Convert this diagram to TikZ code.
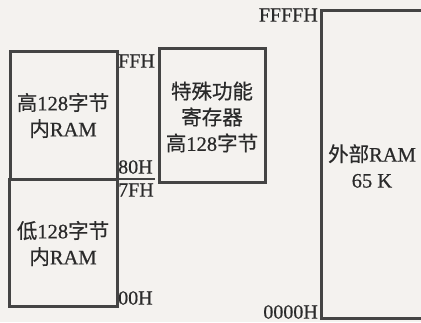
\documentclass[tikz,border=0pt]{standalone}
\usepackage{fontspec}
\setmainfont{Liberation Serif}[FakeBold=0.5]
\newfontfamily\cjk{Noto Sans CJK SC}[FakeBold=0.5]
\definecolor{bg}{HTML}{F4F2EF}
\definecolor{ln}{HTML}{444444}
\definecolor{tx}{HTML}{2A2A2A}
\begin{document}
\begin{tikzpicture}[x=1pt,y=-1pt,
  blk/.style={draw=ln,line width=3pt},
  lbl/.style={text=tx,font=\fontsize{20.5}{26}\selectfont,inner sep=0pt,align=center},
  addr/.style={text=tx,font=\fontsize{20}{22}\selectfont,inner sep=0pt}]
\fill[bg] (0,0) rectangle (421,322);
\useasboundingbox (0,0) rectangle (421,322);
% left blocks
\draw[blk] (10,51) rectangle (117,179);
\draw[blk] (9,179) rectangle (117,306);
\coordinate (sepA) at (117,179);
\coordinate (sepB) at (155,179);
\draw[ln,line width=1.8pt] (sepA) -- (sepB);
% middle block
\draw[blk] (159,48) rectangle (265,182);
% right block
\draw[blk] (321,10) rectangle (440,318);
% texts
\node[lbl] (hi) at (63,115.5) {{\cjk 高}128{\cjk 字节}\\{\cjk 内}RAM};
\node[lbl] (lo) at (63,243.5) {{\cjk 低}128{\cjk 字节}\\{\cjk 内}RAM};
\node[lbl] (sfr) at (212,117) {{\cjk 特殊功能}\\{\cjk 寄存器}\\{\cjk 高}128{\cjk 字节}};
\node[lbl] (ext) at (372,166) {{\cjk 外部}RAM\\65 K};
% addresses
\node[addr,anchor=west] (ffh) at (118,61) {FFH};
\node[addr,anchor=west] (h80) at (118,167) {80H};
\node[addr,anchor=west] (h7f) at (118,190) {7FH};
\node[addr,anchor=west] (h00) at (118,298) {00H};
\node[addr,anchor=east] (ffff) at (318,15) {FFFFH};
\node[addr,anchor=east] (h0000) at (318,312) {0000H};
\end{tikzpicture}
\end{document}
